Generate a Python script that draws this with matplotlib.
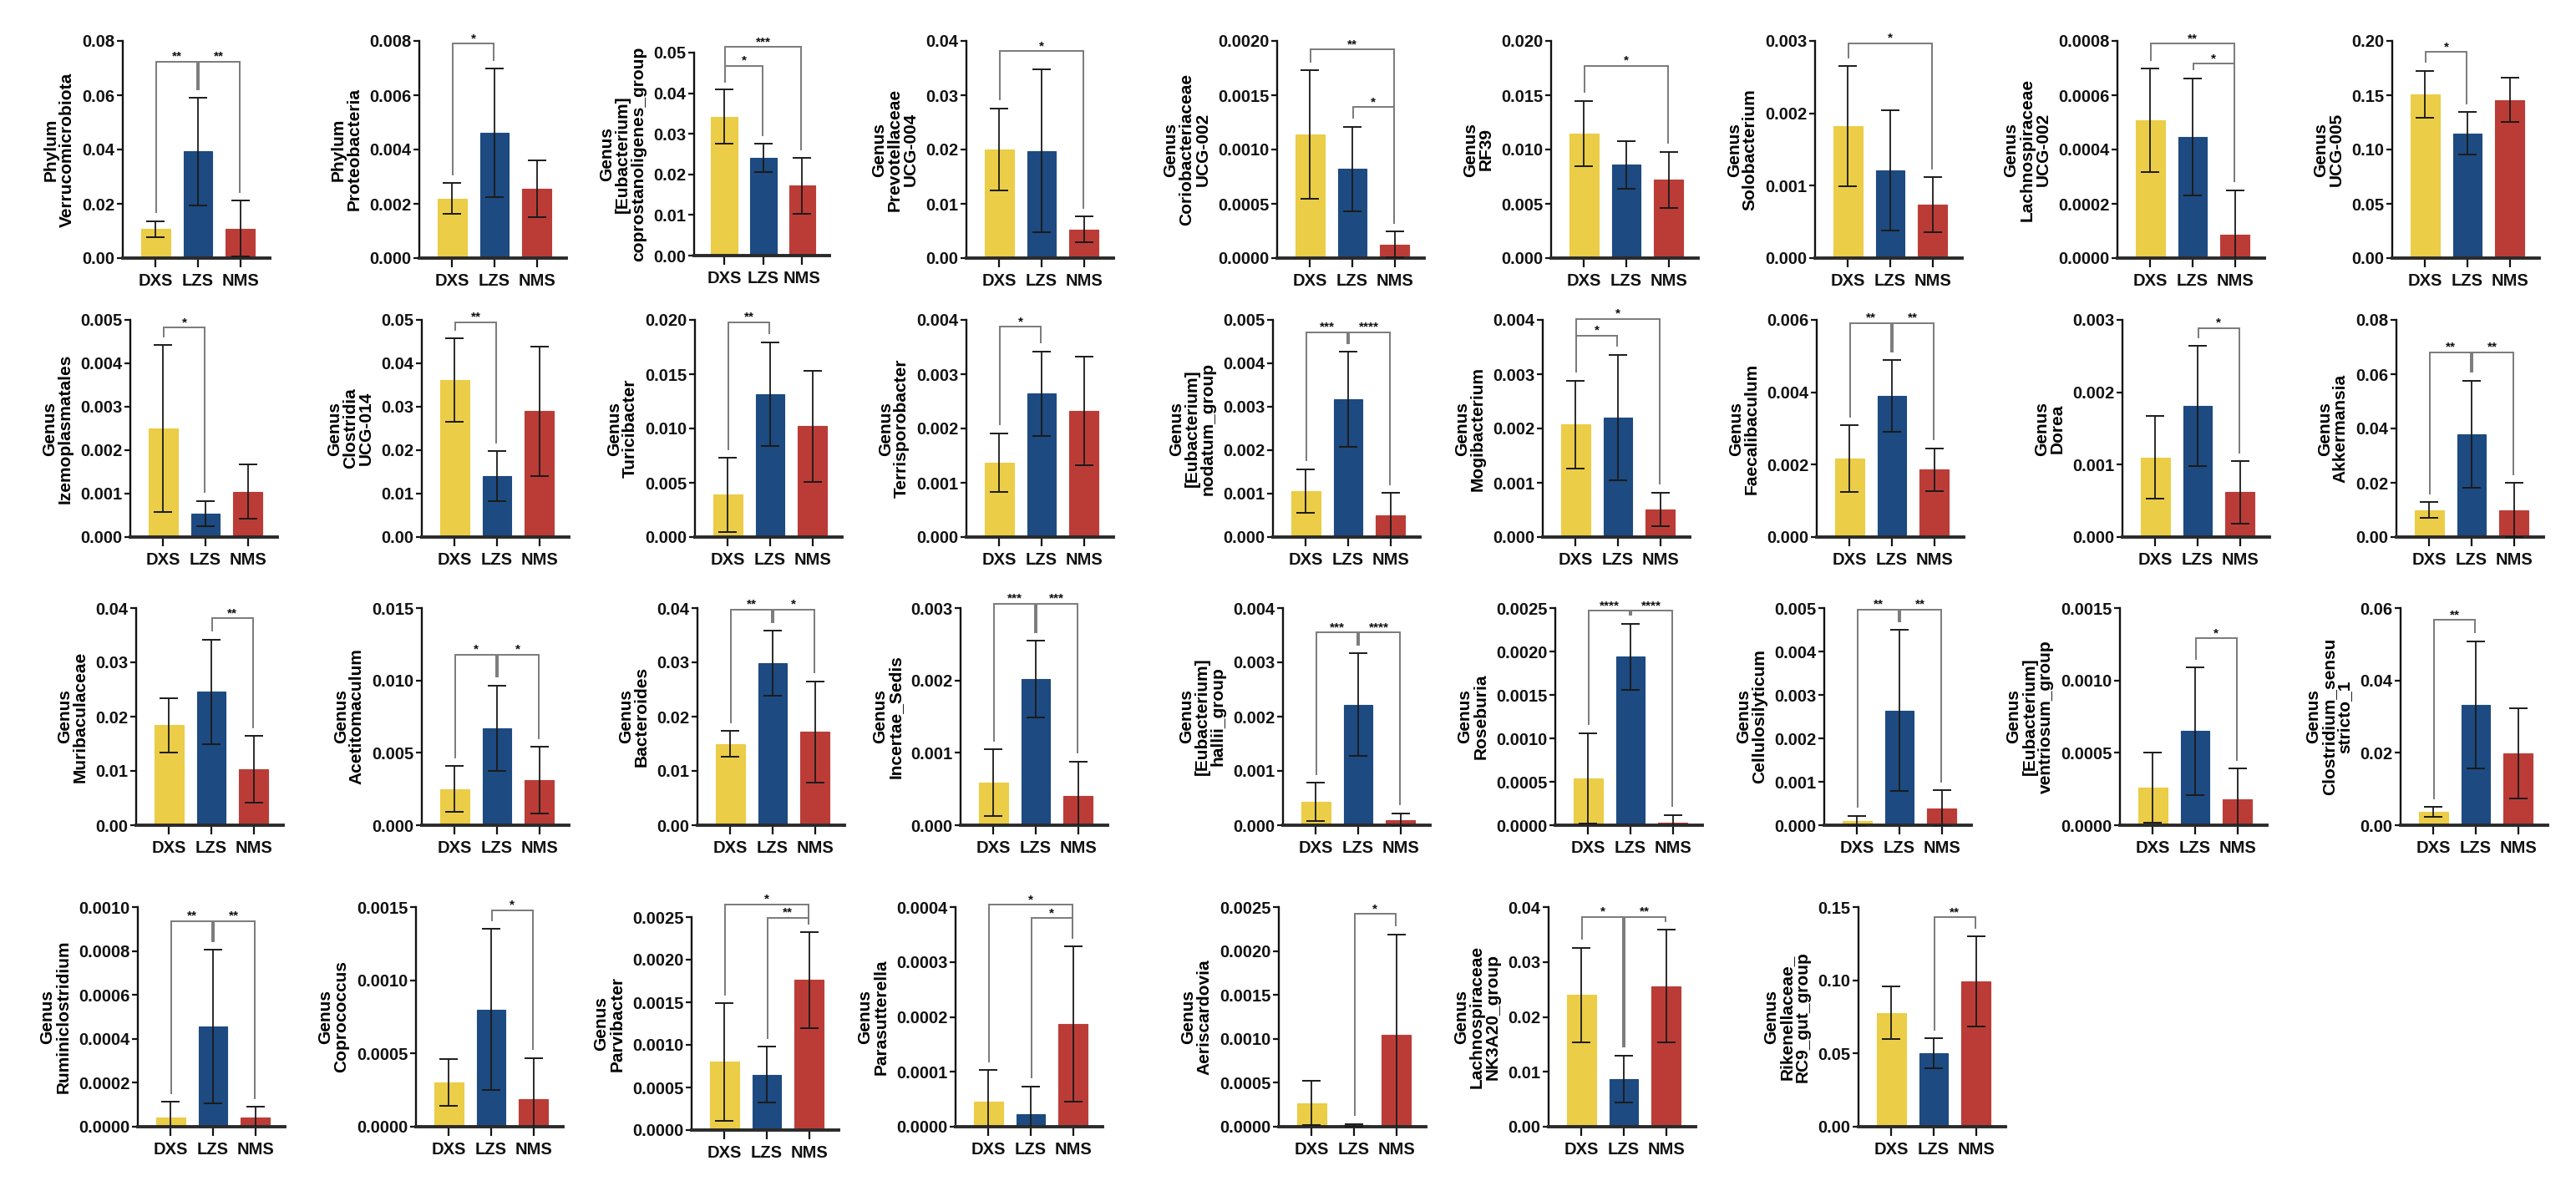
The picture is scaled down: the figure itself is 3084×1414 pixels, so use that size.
import matplotlib
matplotlib.use('Agg')
import matplotlib.pyplot as plt
from decimal import Decimal

plt.rcParams['font.family'] = ['Liberation Sans', 'DejaVu Sans']
plt.rcParams['font.weight'] = 'bold'

# ---------------- data ----------------
groups = ['DXS', 'LZS', 'NMS']
group_colors = ['#EBCD47', '#1D4A80', '#BB3C37']

labels = [
    'Phylum\nVerrucomicrobiota',
    'Phylum\nProteobacteria',
    'Genus\n[Eubacterium]\ncoprostanoligenes_group',
    'Genus\nPrevotellaceae\nUCG-004',
    'Genus\nCoriobacteriaceae\nUCG-002',
    'Genus\nRF39',
    'Genus\nSolobacterium',
    'Genus\nLachnospiraceae\nUCG-002',
    'Genus\nUCG-005',
    'Genus\nIzemoplasmatales',
    'Genus\nClostridia\nUCG-014',
    'Genus\nTuricibacter',
    'Genus\nTerrisporobacter',
    'Genus\n[Eubacterium]\nnodatum_group',
    'Genus\nMogibacterium',
    'Genus\nFaecalibaculum',
    'Genus\nDorea',
    'Genus\nAkkermansia',
    'Genus\nMuribaculaceae',
    'Genus\nAcetitomaculum',
    'Genus\nBacteroides',
    'Genus\nIncertae_Sedis',
    'Genus\n[Eubacterium]\nhallii_group',
    'Genus\nRoseburia',
    'Genus\nCellulosilyticum',
    'Genus\n[Eubacterium]\nventriosum_group',
    'Genus\nClostridium_sensu\nstricto_1',
    'Genus\nRuminiclostridium',
    'Genus\nCoprococcus',
    'Genus\nParvibacter',
    'Genus\nParasutterella',
    'Genus\nAeriscardovia',
    'Genus\nLachnospiraceae\nNK3A20_group',
    'Genus\nRikenellaceae_\nRC9_gut_group',
]

y_max = [0.08, 0.008, 0.05, 0.04, 0.002, 0.02, 0.003, 0.0008, 0.20,
         0.005, 0.05, 0.02, 0.004, 0.005, 0.004, 0.006, 0.003, 0.08,
         0.04, 0.015, 0.04, 0.003, 0.004, 0.0025, 0.005, 0.0015, 0.06,
         0.001, 0.0015, 0.0025, 0.0004, 0.0025, 0.04, 0.15]
y_step = [0.02, 0.002, 0.01, 0.01, 0.0005, 0.005, 0.001, 0.0002, 0.05,
          0.001, 0.01, 0.005, 0.001, 0.001, 0.001, 0.002, 0.001, 0.02,
          0.01, 0.005, 0.01, 0.001, 0.001, 0.0005, 0.001, 0.0005, 0.02,
          0.0002, 0.0005, 0.0005, 0.0001, 0.0005, 0.01, 0.05]

dxs_mean = [0.0107, 0.0022, 0.0342, 0.0200, 0.00114, 0.0115, 0.00182, 0.000507, 0.151,
            0.0025, 0.0361, 0.0039, 0.00137, 0.00106, 0.00207, 0.00217, 0.0011, 0.0100,
            0.01844, 0.0025, 0.0150, 0.00059, 0.00043, 0.00054, 0.0001, 0.00026, 0.0037,
            0.00004, 0.0003, 0.0008, 0.000045, 0.00027, 0.0240, 0.0778]
dxs_err = [0.0029, 0.00056, 0.0067, 0.0076, 0.00059, 0.0030, 0.00083, 0.00019, 0.0215,
           0.00192, 0.0096, 0.0034, 0.00054, 0.0005, 0.00081, 0.00092, 0.00057, 0.0028,
           0.005, 0.0016, 0.0024, 0.00046, 0.00035, 0.00052, 0.00012, 0.00024, 0.0013,
           0.000073, 0.00016, 0.00069, 0.000058, 0.00025, 0.0086, 0.0178]
lzs_mean = [0.0393, 0.00462, 0.0241, 0.0197, 0.00082, 0.0086, 0.00121, 0.000447, 0.1149,
            0.00054, 0.0140, 0.01318, 0.00264, 0.00317, 0.0022, 0.0039, 0.00181, 0.0379,
            0.0246, 0.0067, 0.0298, 0.00202, 0.00222, 0.00194, 0.00264, 0.00065, 0.0332,
            0.000455, 0.0008, 0.00065, 0.000023, 0.000015, 0.0087, 0.0501]
lzs_err = [0.0198, 0.00236, 0.0035, 0.0150, 0.00039, 0.0022, 0.00083, 0.000215, 0.0197,
           0.00029, 0.0058, 0.00477, 0.00078, 0.00109, 0.00116, 0.00099, 0.00083, 0.0197,
           0.0096, 0.00295, 0.0060, 0.00053, 0.00095, 0.00038, 0.00186, 0.00044, 0.0176,
           0.00035, 0.00055, 0.00033, 0.00005, 0.000015, 0.0043, 0.0103]
nms_mean = [0.0109, 0.00256, 0.0172, 0.0053, 0.000125, 0.0072, 0.00074, 0.000085, 0.1456,
            0.00104, 0.0290, 0.0102, 0.00233, 0.0005, 0.00051, 0.00186, 0.00062, 0.0100,
            0.0103, 0.0031, 0.0172, 0.0004, 0.0001, 0.00003, 0.00039, 0.00018, 0.0199,
            0.00004, 0.00019, 0.00176, 0.000187, 0.00105, 0.0256, 0.0990]
nms_err = [0.0102, 0.00104, 0.0069, 0.0024, 0.00012, 0.0026, 0.00038, 0.000165, 0.0205,
           0.000625, 0.0149, 0.0051, 0.001, 0.00052, 0.00031, 0.00059, 0.00043, 0.0100,
           0.0061, 0.0023, 0.0093, 0.00048, 0.00012, 0.00009, 0.00041, 0.00021, 0.0124,
           0.00005, 0.00028, 0.00056, 0.000141, 0.00114, 0.0103, 0.0308]

# significance brackets: panel, left group, right group, bracket height, label
sig_panel = [0, 0, 1, 2, 2, 3, 4, 4, 5, 6, 7, 7, 8,
             9, 10, 11, 12, 13, 13, 14, 14, 15, 15, 16, 17, 17,
             18, 19, 19, 20, 20, 21, 21, 22, 22, 23, 23, 24, 24, 25, 26,
             27, 27, 28, 29, 29, 30, 30, 31, 32, 32, 33]
sig_left = [0, 1, 0, 0, 0, 0, 0, 1, 0, 0, 0, 1, 0,
            0, 0, 0, 0, 0, 1, 0, 0, 0, 1, 1, 0, 1,
            1, 0, 1, 0, 1, 0, 1, 0, 1, 0, 1, 0, 1, 1, 0,
            0, 1, 1, 0, 1, 0, 1, 1, 0, 1, 1]
sig_right = [1, 2, 1, 1, 2, 2, 2, 2, 2, 2, 2, 2, 1,
             1, 1, 1, 1, 1, 2, 1, 2, 1, 2, 2, 1, 2,
             2, 1, 2, 1, 2, 1, 2, 1, 2, 1, 2, 1, 2, 2, 1,
             1, 2, 2, 2, 2, 2, 2, 2, 1, 2, 2]
sig_height = [0.0724, 0.0724, 0.0079, 0.0467, 0.0514, 0.0381, 0.00192, 0.00139, 0.01772,
              0.00297, 0.00079, 0.000716, 0.1897,
              0.00482, 0.0495, 0.0198, 0.00387, 0.00472, 0.00472, 0.00371, 0.00402,
              0.00591, 0.00591, 0.00289, 0.068, 0.068,
              0.0381, 0.01179, 0.01179, 0.0397, 0.0397, 0.00306, 0.00306, 0.00355, 0.00355,
              0.00247, 0.00247, 0.00497, 0.00497, 0.00129, 0.0567,
              0.000936, 0.000936, 0.00148, 0.00265, 0.00249, 0.000404, 0.00038, 0.00242,
              0.0382, 0.0382, 0.1429]
sig_label = ['**', '**', '*', '*', '***', '*', '**', '*', '*', '*', '**', '*', '*',
             '*', '**', '**', '*', '***', '****', '*', '*', '**', '**', '*', '**', '**',
             '**', '*', '*', '**', '*', '***', '***', '***', '****', '****', '****', '**', '**', '*', '**',
             '**', '**', '*', '*', '**', '*', '*', '*', '*', '**', '**']

# ---------------- layout (pixels) ----------------
W, H = 3084, 1414
col_left = [[147, 502, 831, 1157, 1529, 1857, 2173, 2535, 2864],
            [156, 505, 832, 1157, 1524, 1847, 2175, 2541, 2869],
            [163, 505, 835, 1150, 1536, 1862, 2184, 2538, 2874],
            [165, 498, 828, 1144, 1531, 1854, 2225]]
row_top = [49, 383, 728, 1086]
row_bot = [309, 643, 988, 1349]
panel_w = 176
special = {2: (831, 63, 306, 162), 29: (828, 1098, 1353, 176)}

fig = plt.figure(figsize=(W / 100, H / 100), dpi=100)

means = [dxs_mean, lzs_mean, nms_mean]
errs = [dxs_err, lzs_err, nms_err]

idx = 0
axes = []
for r, lefts in enumerate(col_left):
    for c, lx in enumerate(lefts):
        top, bot, w = row_top[r], row_bot[r], panel_w
        if idx in special:
            lx, top, bot, w = special[idx]
        ax = fig.add_axes([lx / W, 1 - bot / H, w / W, (bot - top) / H])
        axes.append(ax)
        idx += 1

for p, ax in enumerate(axes):
    ym = y_max[p]
    st = y_step[p]
    dec = -Decimal(str(st)).normalize().as_tuple().exponent
    vals = [means[g][p] for g in range(3)]
    ers = [errs[g][p] for g in range(3)]
    xs = list(range(3))
    ax.bar(xs, vals, width=0.68, color=group_colors, edgecolor=group_colors,
           linewidth=0.8, zorder=2)
    ax.errorbar(xs, vals, yerr=ers, fmt='none', ecolor='#1a1a1a', elinewidth=1.3,
                capsize=8, capthick=1.4, zorder=3)
    ax.set_xlim(-0.78, 2.70)
    ax.set_ylim(0, ym)
    n = int(round(ym / st))
    ticks = [k * st for k in range(n + 1)]
    ax.set_yticks(ticks)
    ax.set_yticklabels([f'{t:.{dec}f}' for t in ticks])
    ax.set_xticks(xs)
    ax.set_xticklabels(groups)
    for s in ('top', 'right'):
        ax.spines[s].set_visible(False)
    ax.spines['left'].set_linewidth(1.7)
    ax.spines['left'].set_color('#111111')
    ax.spines['bottom'].set_linewidth(2.8)
    ax.spines['bottom'].set_color('#2a2a2a')
    ax.tick_params(axis='y', direction='out', length=5, width=1.6, labelsize=14.5,
                   pad=2, colors='#111111')
    ax.tick_params(axis='x', direction='out', length=8, width=1.6, labelsize=14.5,
                   pad=5, colors='#111111')
    for t in ax.get_xticklabels() + ax.get_yticklabels():
        t.set_fontweight('bold')
    ax.set_ylabel(labels[p], fontsize=15, fontweight='bold', linespacing=1.0,
                  labelpad=6)

    tops = [vals[g] + ers[g] for g in range(3)]
    for k in range(len(sig_panel)):
        if sig_panel[k] != p:
            continue
        a, b = sig_left[k], sig_right[k]
        h = sig_height[k]
        xa, xb = a + 0.02, b - 0.02
        ya = min(tops[a] + 0.04 * ym, h - 0.02 * ym)
        yb = min(tops[b] + 0.04 * ym, h - 0.02 * ym)
        ax.plot([xa, xa, xb, xb], [ya, h, h, yb], color='#7a7a7a', lw=1.4,
                clip_on=False, zorder=4, solid_joinstyle='miter')
        ax.annotate(sig_label[k], xy=((a + b) / 2, h), xytext=(0, 1.5),
                    textcoords='offset points', ha='center', va='baseline',
                    fontsize=11, fontweight='bold', color='#111111',
                    annotation_clip=False)

fig.savefig('out.png', dpi=100, facecolor='white')
